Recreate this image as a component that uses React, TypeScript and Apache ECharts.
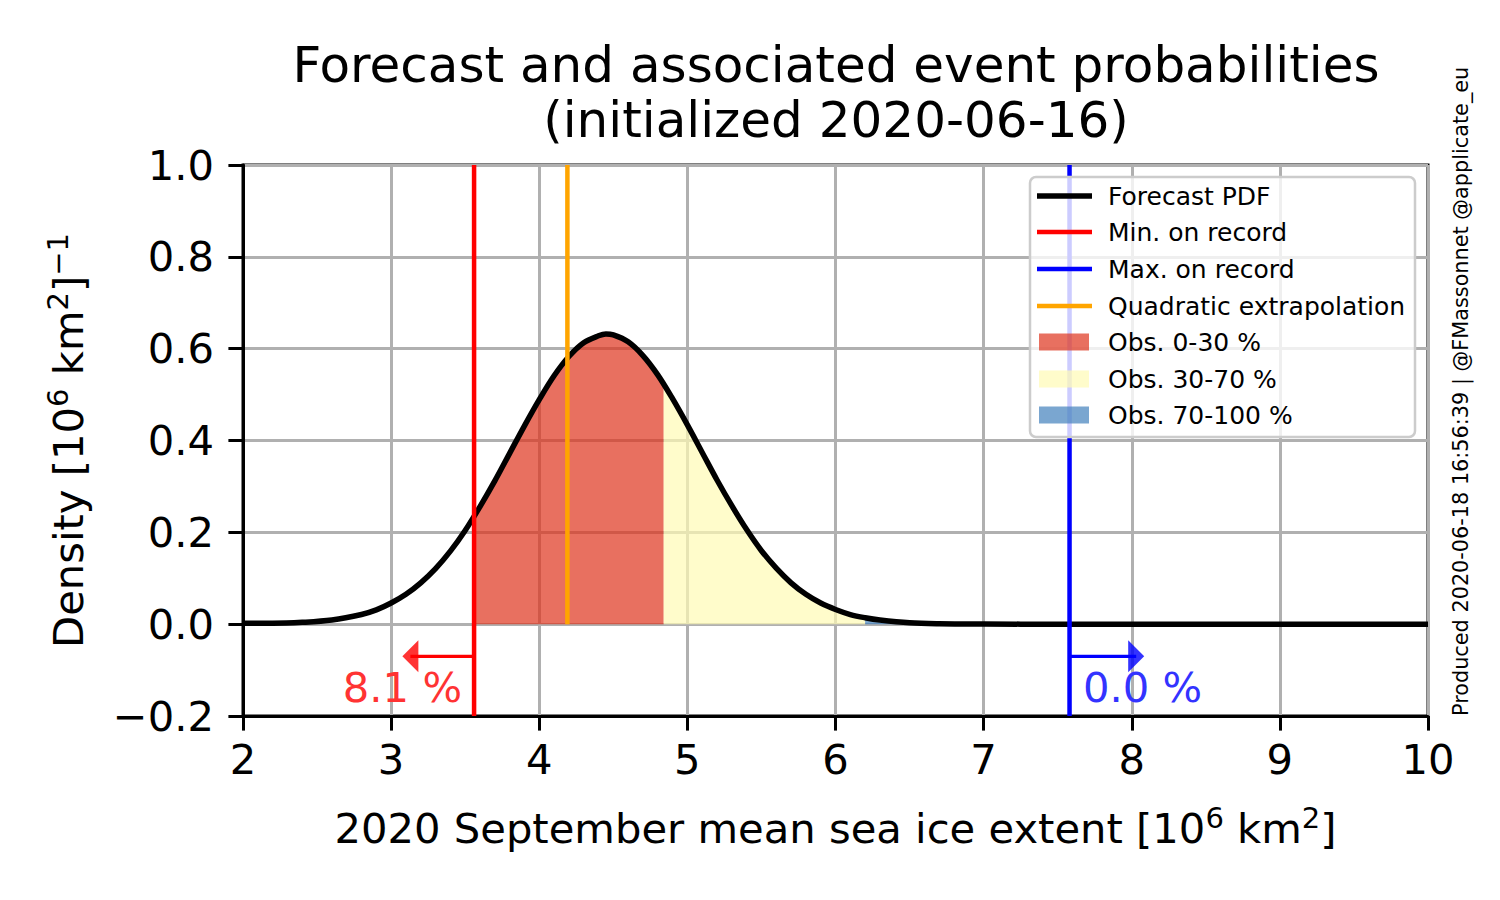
import React, { useEffect, useRef } from "react";
import * as echarts from "echarts";

const FONT = "'DejaVu Sans', sans-serif";

// Forecast PDF
const pdfX = [2.0, 2.2, 2.4, 2.6, 2.8, 2.9, 3.0, 3.1, 3.2, 3.3, 3.4, 3.5, 3.6, 3.7, 3.8, 3.9, 4.0, 4.1, 4.2, 4.3, 4.4, 4.45, 4.5, 4.6, 4.7, 4.8, 4.9, 5.0, 5.1, 5.2, 5.3, 5.4, 5.5, 5.6, 5.7, 5.8, 5.9, 6.0, 6.1, 6.2, 6.3, 6.5, 6.7, 7.0, 7.5, 8.0, 9.0, 10.0];
const pdfY = [0.002, 0.002, 0.004, 0.009, 0.021, 0.031, 0.046, 0.065, 0.09, 0.121, 0.159, 0.204, 0.256, 0.312, 0.372, 0.432, 0.489, 0.541, 0.583, 0.613, 0.628, 0.632, 0.63, 0.615, 0.585, 0.543, 0.491, 0.434, 0.374, 0.314, 0.258, 0.206, 0.16, 0.122, 0.09, 0.065, 0.046, 0.032, 0.021, 0.014, 0.009, 0.003, 0.001, 0.0003, 0, 0, 0, 0];

// Observation tercile bounds (x) and the PDF value at those bounds
const boundX = [3.56, 4.84, 6.2, 7.58];
const boundY = [0.234, 0.522, 0.014, 0];
const fillNames = ["Obs. 0-30 %", "Obs. 30-70 %", "Obs. 70-100 %"];
const fillColors = ["rgba(222,51,28,0.7)", "rgba(255,251,181,0.7)", "rgba(66,128,188,0.7)"];

// Reference lines
const minRecord = 3.56;
const maxRecord = 7.58;
const quadratic = 4.19;
const arrowY = -0.07;
const arrowHeadMin = 3.13;
const arrowHeadMax = 8.03;
const probBelowMin = "8.1 %";
const probAboveMax = "0.0 %";

const yMin = -0.2;
const yMax = 1.0;
const xMin = 2;
const xMax = 10;

const SMOOTH = 0.35;

function segment(a: number, b: number, va: number, vb: number) {
  const pts: number[][] = [[a, va]];
  pdfX.forEach((x, i) => {
    if (x > a && x < b) pts.push([x, pdfY[i]]);
  });
  pts.push([b, vb]);
  return pts;
}

export default function App() {
  const ref = useRef<HTMLDivElement>(null);
  useEffect(() => {
    document.body.style.margin = "0";
    const chart = echarts.init(ref.current!, null, { renderer: "svg" });
    const sup = { fontSize: 29, fontFamily: FONT, color: "#000", verticalAlign: "top", lineHeight: 29 };
    const main = { fontSize: 41.7, fontFamily: FONT, color: "#000", lineHeight: 50 };

    const fillSeries = fillNames.map((name, i) => ({
      name,
      type: "line",
      data: segment(boundX[i], boundX[i + 1], boundY[i], boundY[i + 1]),
      showSymbol: false,
      smooth: SMOOTH,
      lineStyle: { width: 0 },
      areaStyle: { color: fillColors[i], opacity: 1, origin: "auto" },
      z: 1,
      silent: true,
    }));

    const vline = (name: string, x: number, y0: number, color: string) => ({
      name,
      type: "line",
      data: [[x, y0], [x, yMax]],
      showSymbol: false,
      lineStyle: { color, width: 4.5 },
      z: 4,
      silent: true,
    });

    const legendItems = [
      { label: "Forecast PDF", kind: "line", color: "#000000", y: 196 },
      { label: "Min. on record", kind: "line", color: "#ff0000", y: 232 },
      { label: "Max. on record", kind: "line", color: "#0000ff", y: 269 },
      { label: "Quadratic extrapolation", kind: "line", color: "#ffa500", y: 306 },
      { label: fillNames[0], kind: "rect", color: fillColors[0], y: 342 },
      { label: fillNames[1], kind: "rect", color: fillColors[1], y: 379 },
      { label: fillNames[2], kind: "rect", color: fillColors[2], y: 415 },
    ];
    const legendEls: any[] = [
      {
        type: "rect",
        z: 100,
        shape: { x: 1030, y: 177, width: 385, height: 260, r: 6 },
        style: { fill: "rgba(255,255,255,0.8)", stroke: "#cccccc", lineWidth: 2.5 },
      },
    ];
    legendItems.forEach((it) => {
      if (it.kind === "line") {
        legendEls.push({
          type: "line",
          z: 101,
          shape: { x1: 1037, y1: it.y, x2: 1092, y2: it.y },
          style: { stroke: it.color, lineWidth: it.color === "#000000" ? 5.5 : 4.5 },
        });
      } else {
        legendEls.push({
          type: "rect",
          z: 101,
          shape: { x: 1039, y: it.y - 8.5, width: 50, height: 17 },
          style: { fill: it.color },
        });
      }
      legendEls.push({
        type: "text",
        z: 101,
        x: 1108,
        y: it.y,
        style: { text: it.label, font: `25px ${FONT}`, fill: "#000", textAlign: "left", textVerticalAlign: "middle" },
      });
    });

    chart.setOption({
      animation: false,
      textStyle: { fontFamily: FONT },
      grid: { left: 243, top: 165, width: 1185, height: 551, show: true, borderColor: "#000", borderWidth: 3, backgroundColor: "transparent" },
      xAxis: {
        type: "value",
        min: xMin,
        max: xMax,
        interval: 1,
        axisLine: { show: true, onZero: false, lineStyle: { color: "#000", width: 3 } },
        axisTick: { show: true, length: 14.6, lineStyle: { color: "#000", width: 3 } },
        axisLabel: { fontSize: 41.7, color: "#000", margin: 22, fontFamily: FONT, formatter: (v: number) => String(v) },
        splitLine: { show: true, lineStyle: { color: "#b0b0b0", width: 3 } },
        name: "{a|2020 September mean sea ice extent [10}{s|6}{a| km}{s|2}{a|]}",
        nameLocation: "middle",
        nameGap: 87,
        nameTextStyle: { rich: { a: main, s: sup } },
      },
      yAxis: {
        type: "value",
        min: yMin,
        max: yMax,
        interval: 0.2,
        axisLine: { show: true, onZero: false, lineStyle: { color: "#000", width: 3 } },
        axisTick: { show: true, length: 14.6, lineStyle: { color: "#000", width: 3 } },
        axisLabel: {
          fontSize: 41.7,
          color: "#000",
          margin: 29,
          fontFamily: FONT,
          formatter: (v: number) => (v < -1e-9 ? "\u2212" : "") + Math.abs(v).toFixed(1),
        },
        splitLine: { show: true, lineStyle: { color: "#b0b0b0", width: 3 } },
        name: "{a|Density [10}{s|6}{a| km}{s|2}{a|]}{s|\u22121}",
        nameLocation: "middle",
        nameRotate: 90,
        nameGap: 150,
        nameTextStyle: { rich: { a: main, s: sup } },
      },
      series: [
        ...fillSeries,
        {
          name: "Forecast PDF",
          type: "line",
          data: pdfX.map((x, i) => [x, pdfY[i]]),
          showSymbol: false,
          smooth: SMOOTH,
          lineStyle: { color: "#000", width: 5.5 },
          z: 3,
          silent: true,
        },
        vline("Min. on record", minRecord, yMin, "#ff0000"),
        vline("Max. on record", maxRecord, yMin, "#0000ff"),
        vline("Quadratic extrapolation", quadratic, 0, "#ffa500"),
        {
          name: "arrowMin",
          type: "line",
          data: [[minRecord, arrowY], [arrowHeadMin, arrowY]],
          showSymbol: false,
          lineStyle: { color: "#ff0000", width: 3.3 },
          z: 4,
          silent: true,
        },
        {
          name: "arrowMax",
          type: "line",
          data: [[maxRecord, arrowY], [arrowHeadMax, arrowY]],
          showSymbol: false,
          lineStyle: { color: "#0000ff", width: 3.3 },
          z: 4,
          silent: true,
        },
        {
          name: "heads",
          type: "scatter",
          data: [
            { value: [arrowHeadMin, arrowY], symbolRotate: 90, itemStyle: { color: "#ff0000" } },
            { value: [arrowHeadMax, arrowY], symbolRotate: -90, itemStyle: { color: "#0000ff" } },
          ],
          symbol: "triangle",
          symbolSize: [32, 16],
          z: 5,
          silent: true,
        },
      ],
      graphic: [
        {
          type: "text",
          x: 836,
          y: 65,
          style: { text: "Forecast and associated event probabilities", font: `50px ${FONT}`, fill: "#000", textAlign: "center", textVerticalAlign: "middle" },
        },
        {
          type: "text",
          x: 836,
          y: 120,
          style: { text: "(initialized 2020-06-16)", font: `50px ${FONT}`, fill: "#000", textAlign: "center", textVerticalAlign: "middle" },
        },
        {
          type: "text",
          x: 462,
          y: 687,
          z: 10,
          style: { text: probBelowMin, font: `41.7px ${FONT}`, fill: "#ff3333", textAlign: "right", textVerticalAlign: "middle" },
        },
        {
          type: "text",
          x: 1083,
          y: 687,
          z: 10,
          style: { text: probAboveMax, font: `41.7px ${FONT}`, fill: "#3333ff", textAlign: "left", textVerticalAlign: "middle" },
        },
        {
          type: "text",
          x: 1461,
          y: 716,
          rotation: Math.PI / 2,
          style: {
            text: "Produced 2020-06-18 16:56:39 | @FMassonnet @applicate_eu",
            font: `20.8px ${FONT}`,
            fill: "#000",
            textAlign: "left",
            textVerticalAlign: "middle",
          },
        },
        ...legendEls,
      ],
    });
    return () => chart.dispose();
  }, []);
  return <div ref={ref} style={{ width: 1500, height: 900 }} />;
}
